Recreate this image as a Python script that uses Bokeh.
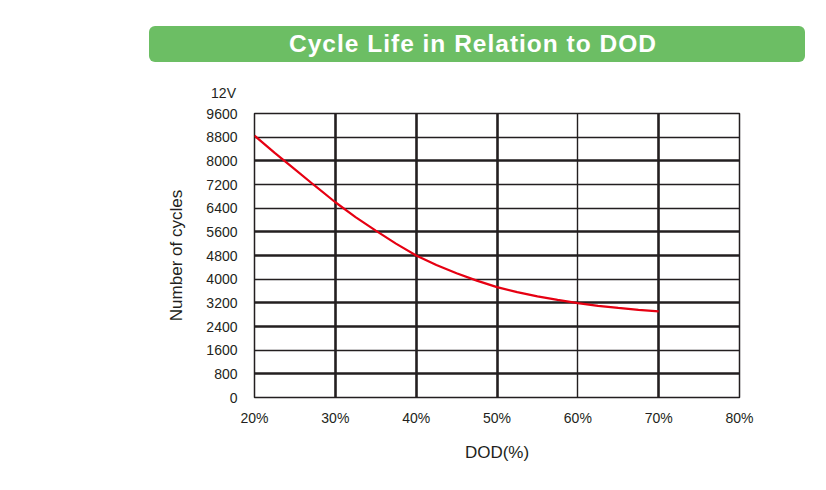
from bokeh.plotting import figure
from bokeh.models import Range1d, FixedTicker, Grid, Div
from bokeh.layouts import column
from bokeh.embed import file_html
from bokeh.resources import INLINE

# ---- data ----
dod = [20, 22.5, 25, 27.5, 30, 32.5, 35, 37.5, 40, 42.5, 45, 47.5, 50, 52.5, 55, 57.5, 60, 62.5, 65, 67.5, 70]
cycles = [8850, 8270, 7710, 7150, 6600, 6100, 5640, 5200, 4800, 4480, 4200, 3950, 3730, 3560, 3420, 3300, 3190, 3100, 3030, 2965, 2910]
x_ticks = [20, 30, 40, 50, 60, 70, 80]
x_tick_labels = ["20%", "30%", "40%", "50%", "60%", "70%", "80%"]
y_ticks = [0, 800, 1600, 2400, 3200, 4000, 4800, 5600, 6400, 7200, 8000, 8800, 9600]
x_grid_thick = [30, 40, 50, 70, 80]
x_grid_thin = [60]
y_grid_thick = [0, 800, 2400, 3200, 4800, 5600, 8000]
y_grid_thin = [1600, 4000, 6400, 7200, 8800, 9600]

TEXT = "#231f20"
FONT = "Liberation Sans"

header = Div(
    text=('<div style="position:relative;width:826px;height:100px;">'
          '<div style="position:absolute;left:149px;top:26px;width:656px;height:36px;'
          'box-sizing:border-box;padding-right:8px;'
          'background:#6cbe64;border-radius:6px;color:#ffffff;'
          "font-family:'Liberation Sans',Arial,sans-serif;font-weight:bold;font-size:24.5px;"
          'line-height:36px;text-align:center;letter-spacing:1px;">'
          'Cycle Life in Relation to DOD</div>'
          '<div style="position:absolute;left:186px;top:85px;width:50px;height:16px;'
          "text-align:right;font-family:'Liberation Sans',Arial,sans-serif;font-size:14px;"
          'line-height:16px;color:#231f20;">12V</div>'
          '</div>'),
    width=826, height=100, margin=(0, 0, 0, 0),
)

p = figure(width=826, height=390, output_backend="svg", toolbar_location=None,
           x_range=Range1d(20, 80), y_range=Range1d(0, 9600),
           min_border_left=254, min_border_right=87, min_border_top=13, min_border_bottom=93,
           margin=(0, 0, 0, 0))
p.xgrid.visible = False
p.ygrid.visible = False
p.outline_line_color = TEXT
p.outline_line_width = 1.5

for ticks, width, dim in [(x_grid_thick, 2.6, 0), (x_grid_thin, 1.4, 0),
                          (y_grid_thick, 2.6, 1), (y_grid_thin, 1.4, 1)]:
    g = Grid(dimension=dim, ticker=FixedTicker(ticks=ticks),
             grid_line_color=TEXT, grid_line_width=width)
    p.add_layout(g)

p.line(dod, cycles, line_color="#e60012", line_width=2.2)

p.xaxis.ticker = FixedTicker(ticks=x_ticks)
p.xaxis.major_label_overrides = {t: l for t, l in zip(x_ticks, x_tick_labels)}
p.yaxis.ticker = FixedTicker(ticks=y_ticks)

for ax in (p.xaxis[0], p.yaxis[0]):
    ax.axis_line_color = None
    ax.major_tick_line_color = None
    ax.minor_tick_line_color = None
    ax.major_tick_in = 0
    ax.major_tick_out = 0
    ax.major_label_text_color = TEXT
    ax.major_label_text_font = FONT
    ax.axis_label_text_color = TEXT
    ax.axis_label_text_font = FONT
    ax.axis_label_text_font_style = "normal"
    ax.axis_label_text_font_size = "17px"

p.xaxis.axis_label = "DOD(%)"
p.xaxis.major_label_text_font_size = "14px"
p.xaxis.major_label_standoff = 12
p.xaxis.axis_label_standoff = 14
p.yaxis.axis_label = "Number of cycles"
p.yaxis.major_label_text_font_size = "14px"
p.yaxis.major_label_standoff = 17
p.yaxis.axis_label_standoff = 17

layout = column(header, p, spacing=0)
open("out.html", "w").write(file_html(layout, INLINE))
